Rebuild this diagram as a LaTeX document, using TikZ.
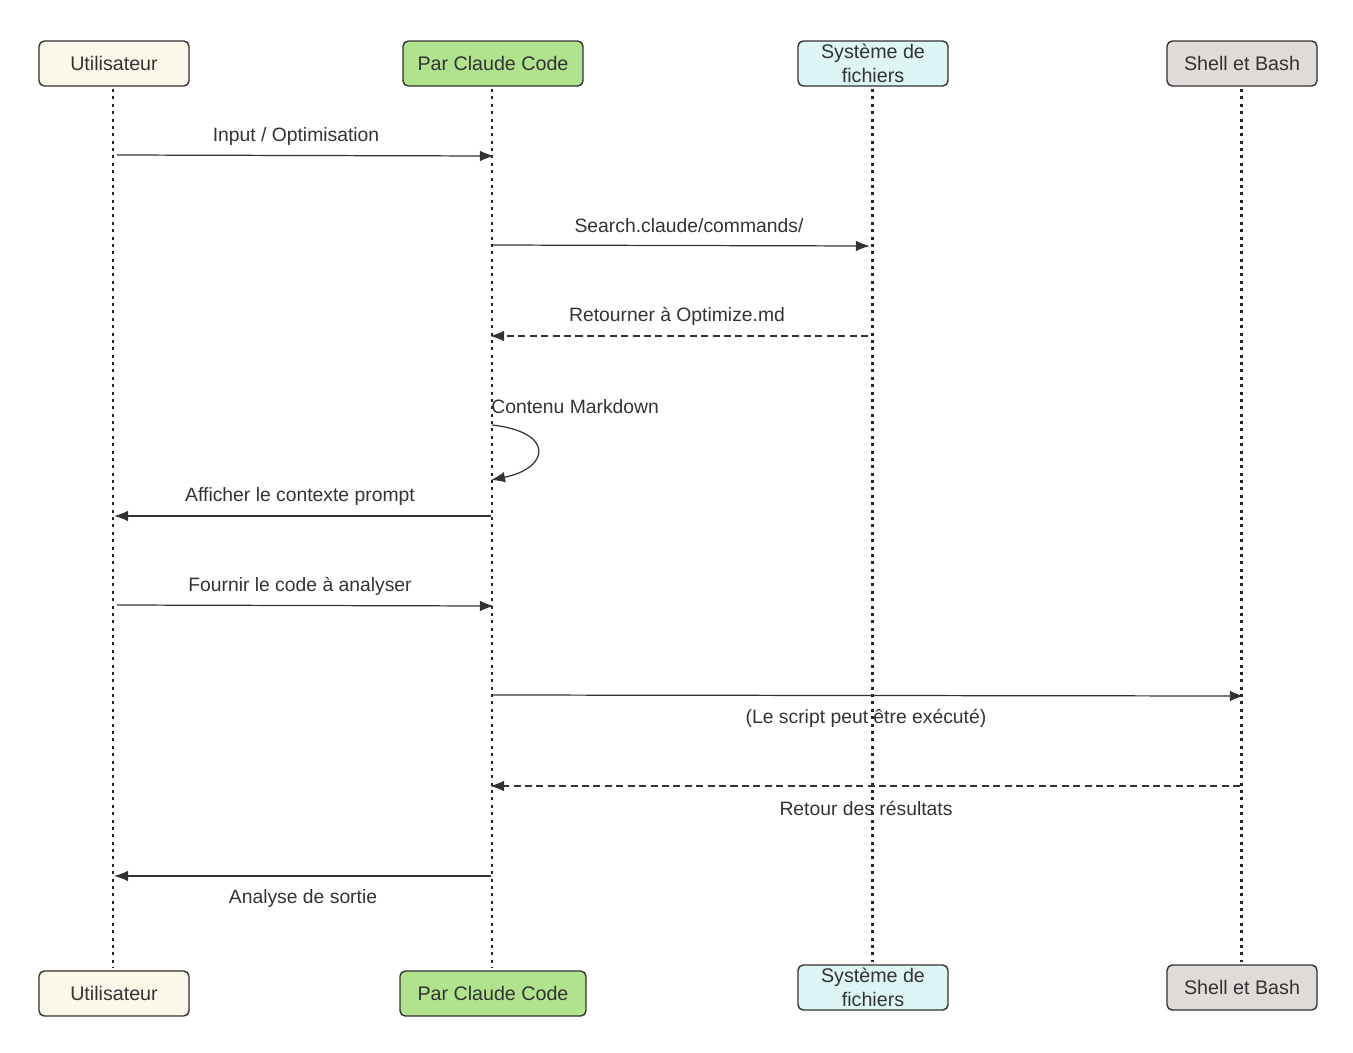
\documentclass[tikz,border=0pt]{standalone}
\usepackage{fontspec}
\setmainfont{Liberation Sans}
\usetikzlibrary{arrows.meta}
\definecolor{ink}{HTML}{333333}
\definecolor{cuser}{HTML}{FBF7E9}
\definecolor{cclaude}{HTML}{B1E38F}
\definecolor{cfs}{HTML}{DDF5F4}
\definecolor{cshell}{HTML}{E0DBD8}
\tikzset{
  actor/.style={draw=ink, line width=0.8pt, rounded corners=3pt, minimum height=45*0.02cm, text=ink, font=\fontsize{11.2}{13.6}\selectfont, align=center, inner sep=0pt},
  lifeline/.style={draw=black!85, line width=1.7pt, dash pattern=on 1.7pt off 2.5pt},
  msg/.style={draw=ink, line width=0.7pt, -{Latex[length=8pt,width=6pt]}},
  ret/.style={msg, dash pattern=on 4pt off 2.5pt},
  lbl/.style={text=ink, font=\fontsize{11}{12}\selectfont, inner sep=0pt}
}
\begin{document}
\begin{tikzpicture}[x=0.02cm,y=-0.02cm]
\useasboundingbox (0,0) rectangle (1353,1052);
% top actors
\node[actor, fill=cuser, minimum width=150*0.02cm] (u1) at (114,63.5) {Utilisateur};
\node[actor, fill=cclaude, minimum width=180*0.02cm] (c1) at (493,63.5) {Par Claude Code};
\node[actor, fill=cfs, minimum width=150*0.02cm] (f1) at (873,63.5) {Système de\\fichiers};
\node[actor, fill=cshell, minimum width=150*0.02cm] (s1) at (1242,63.5) {Shell et Bash};
% bottom actors
\node[actor, fill=cuser, minimum width=150*0.02cm] (u2) at (114,993.5) {Utilisateur};
\node[actor, fill=cclaude, minimum width=186*0.02cm] (c2) at (493,993.5) {Par Claude Code};
\node[actor, fill=cfs, minimum width=150*0.02cm] (f2) at (873,987.5) {Système de\\fichiers};
\node[actor, fill=cshell, minimum width=150*0.02cm] (s2) at (1242,987.5) {Shell et Bash};
% lifelines
\coordinate (lu1) at (113,89); \coordinate (lu2) at (113,968);
\coordinate (lc1) at (492,89); \coordinate (lc2) at (492,968);
\coordinate (lf1) at (872,89); \coordinate (lf2) at (872,962);
\coordinate (ls1) at (1241,89); \coordinate (ls2) at (1241,962);
\draw[lifeline] (lu1) -- (lu2);
\draw[lifeline] (lc1) -- (lc2);
\draw[lifeline] (lf1) -- (lf2);
\draw[lifeline] (ls1) -- (ls2);
% message endpoints
\coordinate (m1a) at (117,155); \coordinate (m1b) at (494,156);
\coordinate (m2a) at (492,245); \coordinate (m2b) at (870,246);
\coordinate (m3a) at (868,336); \coordinate (m3b) at (490,336);
\coordinate (m4a) at (492,425); \coordinate (m4b) at (491,480);
\coordinate (m5a) at (491,516); \coordinate (m5b) at (114,516);
\coordinate (m6a) at (117,605); \coordinate (m6b) at (494,606);
\coordinate (m7a) at (492,695); \coordinate (m7b) at (1244,696);
\coordinate (m8a) at (1240,786); \coordinate (m8b) at (490,786);
\coordinate (m9a) at (491,876); \coordinate (m9b) at (114,876);
\draw[msg] (m1a) -- (m1b);
\draw[msg] (m2a) -- (m2b);
\draw[ret] (m3a) -- (m3b);
\draw[msg] (m4a) .. controls (555,432) and (550,468) .. (m4b);
\draw[msg] (m5a) -- (m5b);
\draw[msg] (m6a) -- (m6b);
\draw[msg] (m7a) -- (m7b);
\draw[ret] (m8a) -- (m8b);
\draw[msg] (m9a) -- (m9b);
% labels
\node[lbl] (t1) at (296,136) {Input / Optimisation};
\node[lbl] (t2) at (689,226) {Search.claude/commands/};
\node[lbl] (t3) at (677,316) {Retourner à Optimize.md};
\node[lbl, anchor=west] (t4) at (491,407) {Contenu Markdown};
\node[lbl] (t5) at (300,496) {Afficher le contexte prompt};
\node[lbl] (t6) at (300,586) {Fournir le code à analyser};
\node[lbl] (t7) at (866,718) {(Le script peut être exécuté)};
\node[lbl] (t8) at (866,808) {Retour des résultats};
\node[lbl] (t9) at (303,898) {Analyse de sortie};
\end{tikzpicture}
\end{document}
